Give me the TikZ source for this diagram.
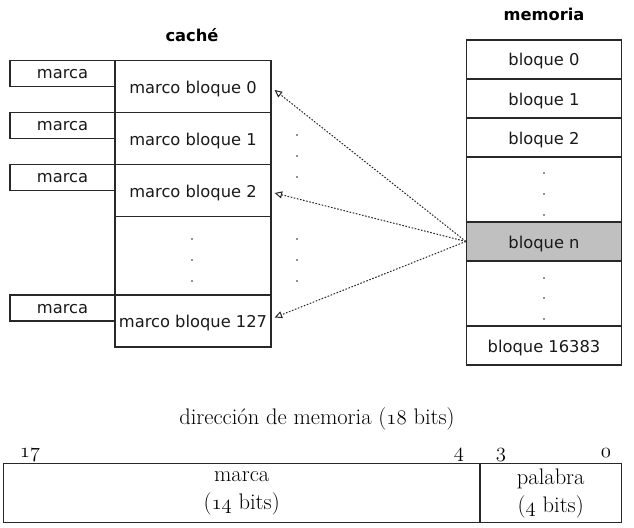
\documentclass[tikz,border=0pt]{standalone}
\usepackage{fontspec}
\newfontfamily\dejavu{DejaVu Sans}
\usetikzlibrary{arrows.meta}
\newcommand\osf[1]{{\fontencoding{OML}\fontfamily{lmm}\fontseries{m}\fontshape{it}\selectfont #1}}
\definecolor{bordercol}{RGB}{40,40,40}
\definecolor{shade}{RGB}{192,192,192}
\tikzset{
  box/.style={draw=bordercol, line width=1.2pt, inner sep=0pt,
    font=\dejavu\fontsize{16.3}{19}\selectfont, text=black!90,
    text height=13.5pt, text depth=0.5pt},
  cacherow/.style={box, minimum width=156pt, minimum height=52pt},
  tagbox/.style={box, minimum width=105pt, minimum height=26pt, text height=10.3pt, text depth=0pt},
  memrow/.style={box, minimum width=155pt, minimum height=39pt},
  gaprow/.style={box, minimum width=155pt, minimum height=65pt},
  heading/.style={inner sep=0pt, font=\dejavu\bfseries\fontsize{16.3}{19}\selectfont},
  serif/.style={inner sep=0pt, font=\fontsize{22.5}{28}\selectfont, text=black},
  addr/.style={draw=bordercol, line width=1.1pt, inner sep=0pt, align=center,
    font=\fontsize{22.5}{28}\selectfont, text=black, minimum height=59.4pt},
  arrowline/.style={draw=black!85, line width=1pt, dash pattern=on 1.6pt off 1.6pt,
    -{Triangle[open,length=7.5pt,width=7pt,line width=1pt]}},
  dotmark/.style={fill=black!85}
}
\begin{document}
\begin{tikzpicture}[x=1pt,y=-1pt]
\useasboundingbox (0,0) rectangle (634,527);

% headings
\node[heading] (hcache) at (192,35) {caché};
\node[heading] (hmem) at (544,14) {memoria};

% cache
\node[cacherow] (c0) at (193,86.5) {marco bloque 0};
\node[cacherow] (c1) at (193,138.5) {marco bloque 1};
\node[cacherow] (c2) at (193,190.5) {marco bloque 2};
\node[box, minimum width=156pt, minimum height=78.5pt] (cgap) at (193,255.75) {};
\node[cacherow] (c127) at (193,321) {marco bloque 127};

\node[tagbox] (t0) at (62.5,73.5) {marca};
\node[tagbox] (t1) at (62.5,125.5) {marca};
\node[tagbox] (t2) at (62.5,177.5) {marca};
\node[tagbox] (t127) at (62.5,308) {marca};

% memory
\node[memrow] (m0) at (544,59.5) {bloque 0};
\node[memrow] (m1) at (544,98.5) {bloque 1};
\node[memrow] (m2) at (544,137.5) {bloque 2};
\node[gaprow] (mg1) at (544,189.5) {};
\node[memrow, fill=shade] (mn) at (544,241.5) {bloque n};
\node[gaprow] (mg2) at (544,293.5) {};
\node[memrow] (mlast) at (544,345.5) {bloque 16383};

% dots
\foreach \x/\y in {192/239,192/260,192/281, 297/135,297/156,297/177, 297/239,297/260,297/281,
                   544/173,544/194,544/215, 544/278,544/298,544/319}
  \fill[dotmark] (\x,\y) circle (0.9pt);

% arrows
\draw[arrowline] (mn.west) -- ([shift={(3,3.5)}]c0.east);
\draw[arrowline] (mn.west) -- ([shift={(3,2.5)}]c2.east);
\draw[arrowline] (mn.west) -- ([shift={(3,-3.5)}]c127.east);

% address format
\node[serif] (atitle) at (317,419) {dirección de memoria (\osf{18} bits)};
\node[serif, anchor=base] (b17) at (30,457) {\osf{17}};
\node[serif, anchor=base] (b4) at (459,457) {\osf{4}};
\node[serif, anchor=base] (b3) at (501,457) {\osf{3}};
\node[serif, anchor=base] (b0) at (606,457) {\osf{0}};
\node[addr, minimum width=476.7pt] (am) at (241.65,493) {marca\\(\osf{14} bits)};
\node[addr, minimum width=141.5pt] (ap) at (550.75,493) {palabra\\(\osf{4} bits)};
\end{tikzpicture}
\end{document}
